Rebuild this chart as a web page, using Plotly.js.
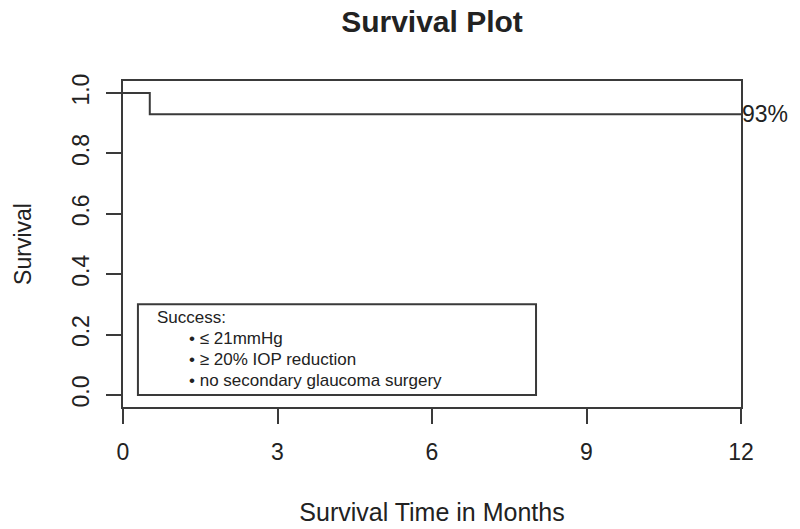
<!DOCTYPE html>
<html>
<head>
<meta charset="utf-8">
<script src="https://cdn.plot.ly/plotly-3.0.1.min.js"></script>
<style>html,body{margin:0;padding:0;background:#fff;}#chart{width:800px;height:529px;}</style>
</head>
<body>
<div id="chart"></div>
<script>
// Survival step data (Kaplan-Meier)
const months = [0, 0.52, 12];
const survival = [1.0, 0.93, 0.93];
const finalLabel = "93%";
const xTicks = [0, 3, 6, 9, 12];
const yTicks = [0, 0.2, 0.4, 0.6, 0.8, 1.0];
const yTickLabels = ["0.0", "0.2", "0.4", "0.6", "0.8", "1.0"];
const legendHeader = "Success:";
const legendItems = ["≤ 21mmHg", "≥ 20% IOP reduction", "no secondary glaucoma surgery"];

const FONT = "Liberation Sans, Arial, sans-serif";
const INK = "#222";
const LINE = "#3a3a3a";

const trace = {
  x: months, y: survival, type: "scatter", mode: "lines",
  line: {shape: "hv", color: LINE, width: 2},
  hoverinfo: "skip", showlegend: false
};

const legendRows = [legendHeader].concat(legendItems.map(t => "• " + t));
const rowY = [0.256, 0.186, 0.116, 0.047];
const annotations = legendRows.map((t, i) => ({
  x: i === 0 ? 0.62 : 1.24, y: rowY[i], xref: "x", yref: "y",
  text: t, showarrow: false, xanchor: "left", yanchor: "middle",
  font: {family: FONT, size: 17, color: INK}
}));
annotations.push({
  x: months[months.length - 1], y: survival[survival.length - 1], xref: "x", yref: "y",
  text: finalLabel, showarrow: false, xanchor: "left", yanchor: "middle", xshift: -1,
  font: {family: FONT, size: 23, color: INK}
});

const layout = {
  width: 800, height: 529,
  paper_bgcolor: "#fff", plot_bgcolor: "#fff",
  margin: {l: 123, r: 59, t: 81, b: 122},
  title: {text: "<b>Survival Plot</b>", x: 0.54, xanchor: "center", xref: "container",
          y: 0.96, yref: "container", yanchor: "middle",
          font: {family: FONT, size: 30, color: INK}},
  xaxis: {
    range: [0, 12], tickvals: xTicks, ticktext: xTicks.map(String),
    showgrid: false, zeroline: false,
    showline: true, mirror: true, linecolor: LINE, linewidth: 2,
    ticks: "outside", ticklen: 15, tickwidth: 2, tickcolor: LINE,
    ticklabelstandoff: 8,
    tickfont: {family: FONT, size: 23, color: INK},
    title: {text: "Survival Time in Months", standoff: 40, font: {family: FONT, size: 25, color: INK}},
    automargin: false, fixedrange: true
  },
  yaxis: {
    range: [-0.04, 1.04], tickvals: yTicks, ticktext: yTickLabels, tickangle: -90,
    showgrid: false, zeroline: false,
    showline: true, mirror: true, linecolor: LINE, linewidth: 2,
    ticks: "outside", ticklen: 15, tickwidth: 2, tickcolor: LINE,
    ticklabelstandoff: 8,
    tickfont: {family: FONT, size: 23, color: INK},
    title: {text: "Survival", standoff: 30, font: {family: FONT, size: 23, color: INK}},
    automargin: false, fixedrange: true
  },
  shapes: [{
    type: "rect", xref: "x", yref: "y", x0: 0.29, x1: 8.02, y0: 0.0, y1: 0.30,
    line: {color: LINE, width: 2}, fillcolor: "rgba(0,0,0,0)"
  }],
  annotations: annotations
};

Plotly.newPlot("chart", [trace], layout, {displayModeBar: false, staticPlot: true});
</script>
</body>
</html>
